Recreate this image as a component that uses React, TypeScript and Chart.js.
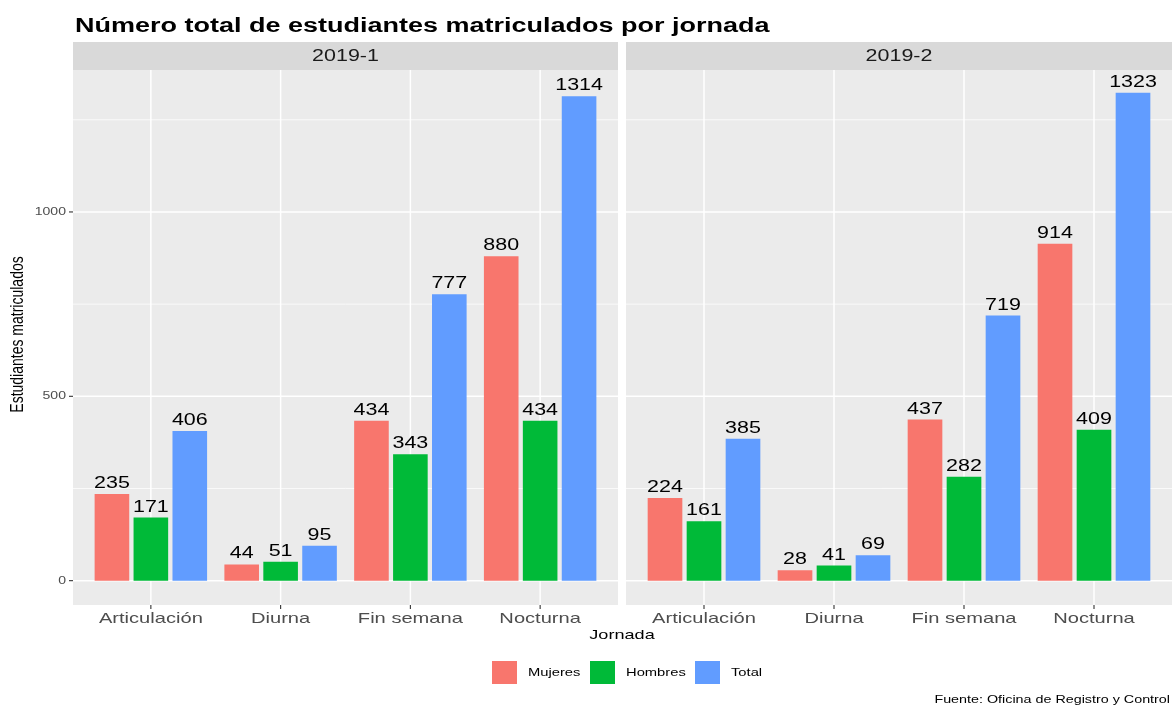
import React, { useEffect, useRef } from "react";
import { Chart, registerables } from "chart.js";

Chart.register(...registerables);

const categories = ["Articulación", "Diurna", "Fin semana", "Nocturna"];
const seriesNames = ["Mujeres", "Hombres", "Total"];
const seriesColors = ["#F8766D", "#00BA38", "#619CFF"];

const mujeres20191 = [235, 44, 434, 880];
const hombres20191 = [171, 51, 343, 434];
const total20191 = [406, 95, 777, 1314];

const mujeres20192 = [224, 28, 437, 914];
const hombres20192 = [161, 41, 282, 409];
const total20192 = [385, 69, 719, 1323];

const yMajorTicks = [0, 500, 1000];
const yMinorTicks = [250, 750, 1250];

const titleText = "Número total de estudiantes matriculados por jornada";
const yTitleText = "Estudiantes matriculados";
const xTitleText = "Jornada";
const captionText = "Fuente: Oficina de Registro y Control";

const W = 1173;
const H = 707;
const SX = 1.34;
const FONT = '"Liberation Sans", Arial, Helvetica, sans-serif';

const PLOT_TOP = 70;
const PLOT_BOTTOM = 605;
const STRIP_TOP = 42;
const Y_MIN = -66;
const Y_MAX = 1385;

function drawText(ctx: CanvasRenderingContext2D, s: string, x: number, y: number, font: string, color: string, align: CanvasTextAlign, baseline: CanvasTextBaseline, rotate = false, sx = SX) {
  ctx.save();
  ctx.translate(x, y);
  if (rotate) {
    ctx.rotate(-Math.PI / 2);
    ctx.scale(1, sx);
  } else {
    ctx.scale(sx, 1);
  }
  ctx.font = font;
  ctx.fillStyle = color;
  ctx.textAlign = align;
  ctx.textBaseline = baseline;
  ctx.fillText(s, 0, 0);
  ctx.restore();
}

type PanelDef = {
  label: string;
  panelLeft: number;
  panelRight: number;
  first: boolean;
  data: number[][];
};

const panels: PanelDef[] = [
  { label: "2019-1", panelLeft: 73, panelRight: 618, first: true, data: [mujeres20191, hombres20191, total20191] },
  { label: "2019-2", panelLeft: 626, panelRight: 1172, first: false, data: [mujeres20192, hombres20192, total20192] },
];

function makePlugin(p: PanelDef) {
  return {
    id: "ggpanel" + p.label,
    beforeDatasetsDraw(chart: any) {
      const { ctx, chartArea, scales } = chart;
      const x = scales.x;
      const y = scales.y;
      const top = chartArea.top;
      const bottom = chartArea.bottom;
      ctx.save();
      ctx.fillStyle = "#EBEBEB";
      ctx.fillRect(p.panelLeft, top, p.panelRight - p.panelLeft, bottom - top);
      ctx.strokeStyle = "#FFFFFF";
      ctx.lineWidth = 0.75;
      for (const v of yMinorTicks) {
        const py = y.getPixelForValue(v);
        ctx.beginPath();
        ctx.moveTo(p.panelLeft, py);
        ctx.lineTo(p.panelRight, py);
        ctx.stroke();
      }
      ctx.lineWidth = 1.5;
      for (const v of yMajorTicks) {
        const py = y.getPixelForValue(v);
        ctx.beginPath();
        ctx.moveTo(p.panelLeft, py);
        ctx.lineTo(p.panelRight, py);
        ctx.stroke();
      }
      categories.forEach((_, i) => {
        const px = x.getPixelForValue(i);
        ctx.beginPath();
        ctx.moveTo(px, top);
        ctx.lineTo(px, bottom);
        ctx.stroke();
      });
      // strip
      ctx.fillStyle = "#D9D9D9";
      ctx.fillRect(p.panelLeft, STRIP_TOP, p.panelRight - p.panelLeft, top - STRIP_TOP);
      ctx.restore();
      drawText(ctx, p.label, (p.panelLeft + p.panelRight) / 2, (STRIP_TOP + top) / 2 + 1, `16px ${FONT}`, "#1A1A1A", "center", "middle");
    },
    afterDatasetsDraw(chart: any) {
      const { ctx } = chart;
      chart.data.datasets.forEach((ds: any, di: number) => {
        const meta = chart.getDatasetMeta(di);
        meta.data.forEach((el: any, i: number) => {
          drawText(ctx, String(ds.data[i]), el.x, el.y - 6, `16px ${FONT}`, "#000000", "center", "alphabetic");
        });
      });
    },
    afterDraw(chart: any) {
      const { ctx, chartArea, scales } = chart;
      const x = scales.x;
      const y = scales.y;
      const bottom = chartArea.bottom;
      ctx.save();
      ctx.strokeStyle = "#333333";
      ctx.lineWidth = 1.1;
      categories.forEach((c, i) => {
        const px = x.getPixelForValue(i);
        ctx.beginPath();
        ctx.moveTo(px, bottom);
        ctx.lineTo(px, bottom + 4);
        ctx.stroke();
      });
      ctx.restore();
      categories.forEach((c, i) => {
        const px = x.getPixelForValue(i);
        drawText(ctx, c, px, bottom + 14, `15px ${FONT}`, "#4D4D4D", "center", "middle");
      });
      if (!p.first) return;
      ctx.save();
      ctx.strokeStyle = "#333333";
      ctx.lineWidth = 1.1;
      for (const v of yMajorTicks) {
        const py = y.getPixelForValue(v);
        ctx.beginPath();
        ctx.moveTo(p.panelLeft - 4, py);
        ctx.lineTo(p.panelLeft, py);
        ctx.stroke();
      }
      ctx.restore();
      for (const v of yMajorTicks) {
        const py = y.getPixelForValue(v);
        drawText(ctx, String(v), p.panelLeft - 7, py, `10.5px ${FONT}`, "#4D4D4D", "right", "middle");
      }
      // titles
      drawText(ctx, titleText, 75, 32, `bold 20px ${FONT}`, "#000000", "left", "alphabetic", false, 1.35);
      drawText(ctx, yTitleText, 18, (PLOT_TOP + bottom) / 2 - 3, `14px ${FONT}`, "#000000", "center", "middle", true);
      drawText(ctx, xTitleText, 622, 635, `13.5px ${FONT}`, "#000000", "center", "middle");
      // legend
      const keyX = [492, 590, 695];
      const textX = [528, 626, 731];
      seriesNames.forEach((n, i) => {
        ctx.save();
        ctx.fillStyle = chart.data.datasets[i].backgroundColor;
        ctx.fillRect(keyX[i], 661, 25, 23);
        ctx.restore();
        drawText(ctx, n, textX[i], 672.5, `11px ${FONT}`, "#000000", "left", "middle");
      });
      drawText(ctx, captionText, 1170, 700, `10.7px ${FONT}`, "#000000", "right", "middle");
    },
  };
}

function Panel({ p }: { p: PanelDef }) {
  const ref = useRef<HTMLCanvasElement | null>(null);
  useEffect(() => {
    if (!ref.current) return;
    const unit = (p.panelRight - p.panelLeft) / 4.2;
    const areaLeft = p.panelLeft + 0.1 * unit;
    const areaRight = p.panelRight - 0.1 * unit;
    const chart = new Chart(ref.current, {
      type: "bar",
      data: {
        labels: categories,
        datasets: seriesNames.map((n, i) => ({
          label: n,
          data: p.data[i],
          backgroundColor: seriesColors[i],
          borderWidth: 0,
          categoryPercentage: 0.9,
          barPercentage: 0.8 / 0.9,
        })),
      },
      options: {
        responsive: false,
        animation: false,
        devicePixelRatio: 1,
        layout: {
          padding: { left: areaLeft, right: W - areaRight, top: PLOT_TOP, bottom: H - PLOT_BOTTOM },
        },
        scales: {
          x: { type: "category", display: false, offset: true },
          y: { type: "linear", display: false, min: Y_MIN, max: Y_MAX },
        },
        plugins: {
          legend: { display: false },
          tooltip: { enabled: false },
          title: { display: false },
        },
      },
      plugins: [makePlugin(p)],
    } as any);
    return () => chart.destroy();
  }, [p]);
  return (
    <canvas
      ref={ref}
      width={W}
      height={H}
      style={{ position: "absolute", left: 0, top: 0, width: W, height: H }}
    />
  );
}

export default function App() {
  return (
    <div style={{ position: "absolute", left: 0, top: 0, width: W, height: H, background: "#FFFFFF", overflow: "hidden" }}>
      {panels.map((p) => (
        <Panel key={p.label} p={p} />
      ))}
    </div>
  );
}
